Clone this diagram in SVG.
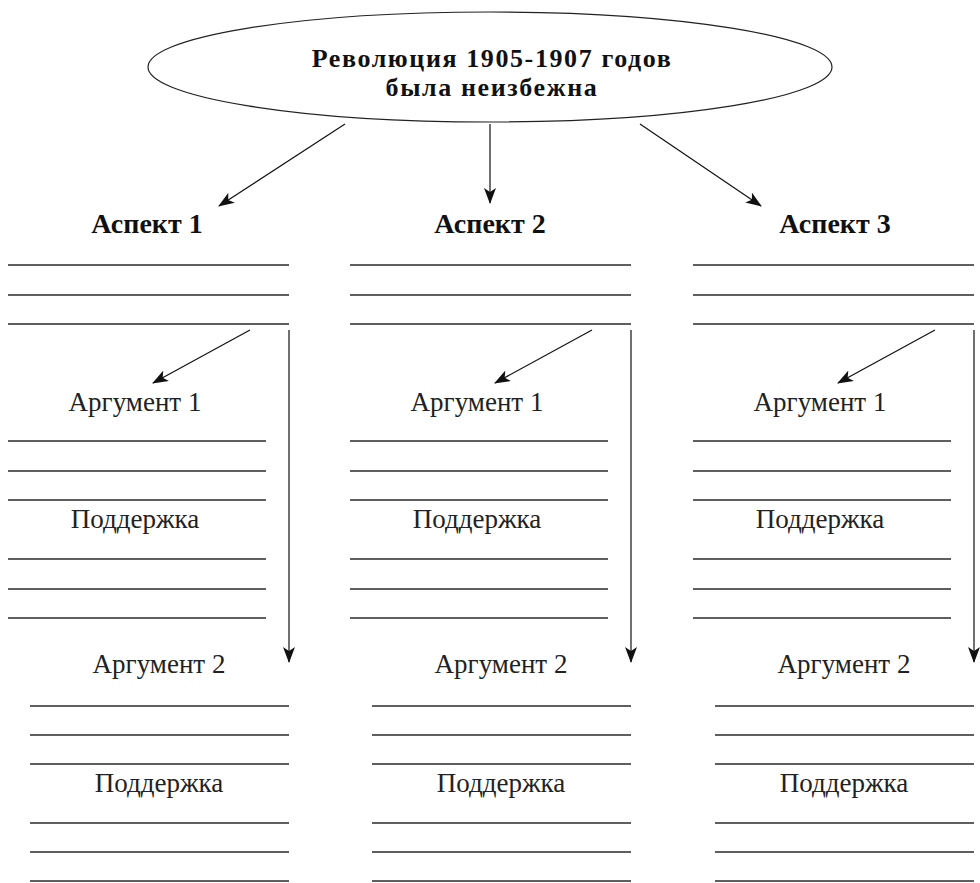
<svg xmlns="http://www.w3.org/2000/svg" width="980" height="883" viewBox="0 0 980 883">
<style>
.ln{stroke:#2a2a2a;stroke-width:1.4;fill:none}
.ar{stroke:#111;stroke-width:1.2;fill:none}
.t{font-family:"Liberation Serif","DejaVu Serif",serif;font-size:27px;fill:#222;text-anchor:middle}
.b{font-family:"Liberation Serif","DejaVu Serif",serif;font-size:28px;font-weight:bold;fill:#111;text-anchor:middle}
.h{font-family:"Liberation Serif","DejaVu Serif",serif;font-size:26px;font-weight:bold;fill:#111;text-anchor:middle;letter-spacing:1.6px}
</style>
<defs>
<marker id="ah" viewBox="0 0 16 12" refX="15" refY="6" markerWidth="16" markerHeight="12" markerUnits="userSpaceOnUse" orient="auto">
<path d="M0,0 L16,6 L0,12 L4,6 Z" fill="#111"/>
</marker>
<g id="col">
<line class="ln" x1="8" y1="265" x2="289" y2="265"/>
<line class="ln" x1="8" y1="295" x2="289" y2="295"/>
<line class="ln" x1="8" y1="324" x2="289" y2="324"/>
<text class="t" x="135" y="411">Аргумент 1</text>
<line class="ln" x1="8" y1="441" x2="266" y2="441"/>
<line class="ln" x1="8" y1="471" x2="266" y2="471"/>
<line class="ln" x1="8" y1="500" x2="266" y2="500"/>
<text class="t" x="135" y="528">Поддержка</text>
<line class="ln" x1="8" y1="559" x2="266" y2="559"/>
<line class="ln" x1="8" y1="589" x2="266" y2="589"/>
<line class="ln" x1="8" y1="618" x2="266" y2="618"/>
<text class="t" x="159" y="673">Аргумент 2</text>
<line class="ln" x1="30" y1="706" x2="289" y2="706"/>
<line class="ln" x1="30" y1="735" x2="289" y2="735"/>
<line class="ln" x1="30" y1="764" x2="289" y2="764"/>
<text class="t" x="159" y="792">Поддержка</text>
<line class="ln" x1="30" y1="823" x2="289" y2="823"/>
<line class="ln" x1="30" y1="852" x2="289" y2="852"/>
<line class="ln" x1="30" y1="881" x2="289" y2="881"/>
<line class="ar" x1="250" y1="330" x2="153" y2="383" marker-end="url(#ah)"/>
<line class="ar" x1="289" y1="330" x2="289" y2="662" marker-end="url(#ah)"/>
</g>
</defs>
<g id="root">
<ellipse cx="490" cy="67" rx="342" ry="55" fill="#fff" stroke="#222" stroke-width="1.2"/>
<text class="h" x="492" y="67">Революция 1905-1907 годов</text>
<text class="h" x="492" y="96">была неизбежна</text>
</g>
<g id="connectors">
<line class="ar" x1="345" y1="124" x2="219" y2="206" marker-end="url(#ah)"/>
<line class="ar" x1="490" y1="124" x2="490" y2="203" marker-end="url(#ah)"/>
<line class="ar" x1="640" y1="124" x2="761" y2="206" marker-end="url(#ah)"/>
</g>
<g id="aspect1">
<text class="b" x="147" y="233">Аспект 1</text>
<use href="#col"/>
</g>
<g id="aspect2">
<text class="b" x="490" y="233">Аспект 2</text>
<use href="#col" x="342"/>
</g>
<g id="aspect3">
<text class="b" x="835" y="233">Аспект 3</text>
<use href="#col" x="685"/>
</g>
</svg>
